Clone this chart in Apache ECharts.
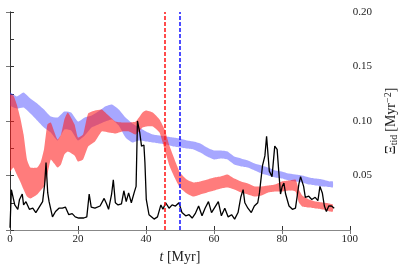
<!DOCTYPE html>
<html><head><meta charset="utf-8">
<script src="https://cdn.jsdelivr.net/npm/echarts@6/dist/echarts.min.js"></script>
<style>html,body{margin:0;padding:0;background:#fff}#c{width:407px;height:270px}</style>
</head><body><div id="c"></div>
<script>
// x-axis ticks
const xTicks = [0, 20, 40, 60, 80, 100];
const yTicks = [0.05, 0.10, 0.15, 0.20];
// black line (t, value)
const tBlack = [0,0.4,0.9,1.4,2.3,2.8,3.6,4.0,4.7,5.7,6.7,7.6,8.6,9.6,10.2,10.6,11.1,11.5,12.5,13.4,14.4,15.4,16.3,17.3,18.3,19.2,20.2,21.7,22.6,23.3,23.9,25,26.5,27.7,28.4,29,29.9,30.4,31,31.8,32.8,33.5,34.2,34.9,35.7,36.6,37.1,37.5,38.2,38.7,39.4,39.7,40.1,40.9,42.4,43.4,44.4,45,45.8,46.8,47.7,48.7,49.7,50.6,51.7,52.7,53.6,54.5,55.5,56.5,57.4,58.4,59.3,60.3,61.3,62.2,63.2,64.2,65.2,66.1,67.1,67.9,68.6,69.1,70,71,71.9,72.9,73.4,74.3,75,75.5,76.3,77.1,77.9,78.6,79.1,79.6,80.1,80.6,81.1,82.1,83.1,84,85,85.5,86.4,86.9,87.9,88.8,89.8,90.6,91.2,91.9,92.5,93.1,93.8,94.6,95.4];
const black = [0.002,0.037,0.036,0.023,0.019,0.028,0.033,0.023,0.026,0.019,0.020,0.016,0.021,0.026,0.042,0.062,0.034,0.026,0.012,0.017,0.020,0.020,0.021,0.014,0.015,0.012,0.011,0.011,0.012,0.033,0.021,0.020,0.022,0.029,0.024,0.019,0.033,0.046,0.025,0.023,0.024,0.036,0.026,0.034,0.025,0.035,0.040,0.100,0.089,0.077,0.078,0.062,0.028,0.014,0.010,0.012,0.023,0.019,0.025,0.020,0.023,0.022,0.025,0.016,0.013,0.014,0.011,0.015,0.022,0.013,0.020,0.026,0.016,0.021,0.026,0.013,0.020,0.012,0.014,0.010,0.016,0.030,0.037,0.025,0.020,0.016,0.022,0.025,0.034,0.059,0.068,0.086,0.054,0.049,0.077,0.074,0.053,0.033,0.040,0.043,0.033,0.022,0.019,0.020,0.042,0.049,0.040,0.030,0.031,0.028,0.030,0.027,0.040,0.034,0.022,0.017,0.022,0.022,0.020];
// blue band
const tBlue = [0,2,4,6,8,10,12,14,16,18,20,22,24,26,28,30,32,34,36,38,40,42,44,46,48,50,52,54,56,58,60,62,64,66,68,70,72,74,76,78,80,82,84,86,88,90,92,94,95];
const blueHigh = [0.1261,0.1225,0.1261,0.1206,0.1161,0.1106,0.1041,0.1032,0.1087,0.1078,0.0995,0.1032,0.1050,0.1087,0.1133,0.1151,0.1106,0.1032,0.0977,0.0940,0.0904,0.0876,0.0867,0.0858,0.0849,0.0839,0.0821,0.0812,0.0794,0.0757,0.0729,0.0729,0.0720,0.0674,0.0656,0.0638,0.0610,0.0592,0.0573,0.0546,0.0537,0.0518,0.0509,0.0500,0.0482,0.0472,0.0463,0.0445,0.0445];
const blueLow = [0.1142,0.1115,0.1124,0.1069,0.1005,0.0940,0.0894,0.0821,0.0922,0.0913,0.0821,0.0867,0.0940,0.0968,0.0995,0.1014,0.0959,0.0849,0.0803,0.0821,0.0812,0.0803,0.0794,0.0784,0.0766,0.0757,0.0748,0.0739,0.0711,0.0674,0.0647,0.0656,0.0647,0.0601,0.0583,0.0573,0.0546,0.0518,0.0500,0.0482,0.0472,0.0454,0.0445,0.0436,0.0417,0.0408,0.0399,0.0394,0.0390];
// red band
const tRed = [0,1,2,3,4,5,6,8,9,10,11,12,13,14,15,16,17,19,20,21.5,23,25,27,29,31,33,35,37,39,40,42,44,45.5,47,49,50,52,54,56,58,60,62,64,66,68,70,72,74,76,78,80,82,84,85,86,88,90,92,94,95];
const redHigh = [0.1243,0.1234,0.1151,0.1032,0.0876,0.0647,0.0573,0.0573,0.0619,0.0739,0.0968,0.0986,0.0904,0.0830,0.0876,0.1014,0.1078,0.0968,0.0849,0.0876,0.1069,0.1096,0.1106,0.1050,0.0995,0.0986,0.0986,0.0995,0.1078,0.1096,0.1078,0.1014,0.0922,0.0766,0.0601,0.0528,0.0463,0.0436,0.0445,0.0463,0.0482,0.0491,0.0509,0.0472,0.0445,0.0427,0.0399,0.0399,0.0408,0.0417,0.0445,0.0454,0.0463,0.0372,0.0317,0.0280,0.0261,0.0252,0.0243,0.0234];
const redLow = [0.0537,0.0573,0.0509,0.0445,0.0372,0.0307,0.0289,0.0326,0.0362,0.0399,0.0509,0.0647,0.0610,0.0573,0.0601,0.0693,0.0720,0.0683,0.0628,0.0647,0.0766,0.0812,0.0904,0.0894,0.0885,0.0904,0.0904,0.0876,0.0940,0.0950,0.0950,0.0894,0.0739,0.0583,0.0445,0.0390,0.0335,0.0307,0.0326,0.0344,0.0362,0.0381,0.0390,0.0372,0.0344,0.0326,0.0307,0.0317,0.0344,0.0353,0.0353,0.0362,0.0353,0.0252,0.0216,0.0206,0.0197,0.0188,0.0170,0.0170];
// vertical markers
const tRedLine = 45.6;
const tBlueLine = 49.9;

const FONT = 'Liberation Serif';
function band(t, lo, hi, color) {
  return {
    type: 'custom', xAxisIndex: 0, yAxisIndex: 0, silent: true, clip: true,
    data: [[t[0], lo[0]]],
    renderItem: function (params, api) {
      const pts = [];
      for (let i = 0; i < t.length; i++) pts.push(api.coord([t[i], hi[i]]));
      for (let i = t.length - 1; i >= 0; i--) pts.push(api.coord([t[i], lo[i]]));
      return { type: 'polygon', shape: { points: pts, smooth: 0.15 }, style: { fill: color, stroke: null } };
    }
  };
}
const chart = echarts.init(document.getElementById('c'));
const darkLine = { show: true, lineStyle: { color: '#333', width: 1 } };
const grayLine = { show: true, lineStyle: { color: '#888', width: 1 } };
const tickDark = { inside: true, length: 4, lineStyle: { color: '#333' } };
const tickGray = { inside: true, length: 4, lineStyle: { color: '#777' } };
chart.setOption({
  animation: false,
  grid: { left: 10, right: 51, top: 12, bottom: 40 },
  xAxis: [
    { type: 'value', min: 0, max: 100, interval: 20, position: 'bottom',
      axisLine: darkLine, axisTick: tickDark,
      axisLabel: { margin: 4, fontFamily: FONT, fontSize: 11, color: '#222' },
      splitLine: { show: false },
      name: '{i|t} [Myr]', nameLocation: 'middle', nameGap: 20,
      nameTextStyle: { fontFamily: FONT, fontSize: 14, color: '#222',
        rich: { i: { fontStyle: 'italic', fontFamily: FONT, fontSize: 14, color: '#222' } } } },
    { type: 'value', min: 0, max: 100, interval: 20, position: 'top',
      axisLine: grayLine, axisTick: tickGray,
      axisLabel: { show: false }, splitLine: { show: false } }
  ],
  yAxis: [
    { type: 'value', min: 0, max: 0.2, interval: 0.05, position: 'right',
      axisLine: grayLine, axisTick: tickGray,
      axisLabel: { margin: 3, fontFamily: FONT, fontSize: 11, color: '#222',
        formatter: v => v === 0 ? '' : v.toFixed(2) },
      splitLine: { show: false },
      name: '{b|Ξ}{s|tid} {b|[Myr}{p|−2}{b|]}', nameLocation: 'middle', nameGap: 26, nameRotate: 90,
      nameTextStyle: { fontFamily: FONT, color: '#222',
        rich: {
          b: { fontFamily: FONT, fontSize: 14, color: '#222', lineHeight: 18 },
          s: { fontFamily: FONT, fontSize: 10, color: '#222', padding: [6, 0, 0, 0], lineHeight: 18 },
          p: { fontFamily: FONT, fontSize: 10, color: '#222', padding: [0, 0, 6, 0], lineHeight: 18 }
        } } },
    { type: 'value', min: 0, max: 0.2, interval: 0.025, position: 'left',
      axisLine: darkLine, axisTick: tickDark,
      axisLabel: { show: false }, splitLine: { show: false } }
  ],
  series: [
    band(tBlue, blueLow, blueHigh, 'rgba(60,60,255,0.45)'),
    band(tRed, redLow, redHigh, 'rgba(255,30,30,0.58)'),
    { type: 'line', xAxisIndex: 0, yAxisIndex: 0, showSymbol: false, silent: true, z: 3,
      data: tBlack.map((t, i) => [t, black[i]]),
      lineStyle: { color: '#000', width: 1.3 } },
    { type: 'line', xAxisIndex: 0, yAxisIndex: 0, showSymbol: false, silent: true, data: [], z: 4,
      markLine: { symbol: 'none', silent: true, label: { show: false },
        emphasis: { disabled: true },
        data: [
          { xAxis: tRedLine, lineStyle: { color: '#ff2020', type: [4, 2], width: 1.6, opacity: 1 } },
          { xAxis: tBlueLine, lineStyle: { color: '#2020ff', type: [4, 2], width: 1.6, opacity: 1 } }
        ] } }
  ]
});
</script></body></html>
